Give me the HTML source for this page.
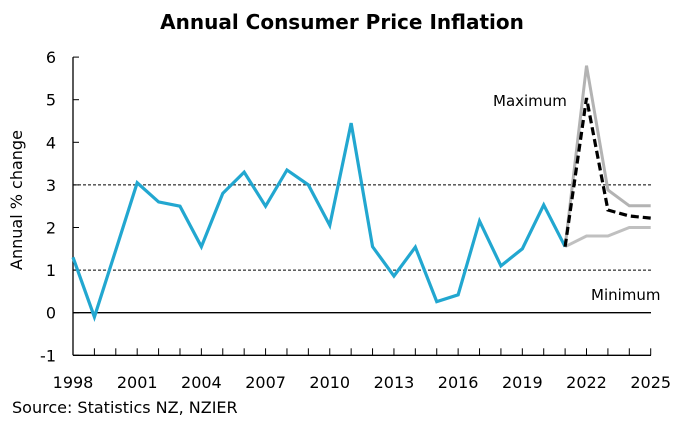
<!DOCTYPE html>
<html><head><meta charset="utf-8"><style>
body{margin:0;background:#fff;width:684px;height:425px;overflow:hidden}
svg text{font-family:"DejaVu Sans","Liberation Sans",sans-serif;fill:#000}
</style></head><body>
<svg id="c" width="684" height="425"></svg>
<script>
const years=[1998,1999,2000,2001,2002,2003,2004,2005,2006,2007,2008,2009,2010,2011,2012,2013,2014,2015,2016,2017,2018,2019,2020,2021];
const actual=[1.3,-0.1,1.47,3.05,2.6,2.5,1.55,2.8,3.3,2.5,3.35,3.0,2.05,4.45,1.55,0.86,1.54,0.26,0.42,2.15,1.1,1.5,2.53,1.55];
const fcYears=[2021,2022,2023,2024,2025];
const fcMax=[1.55,5.8,2.88,2.51,2.51];
const fcMin=[1.55,1.8,1.8,2.0,2.0];
const fcCentral=[1.55,5.04,2.41,2.27,2.22];
const yTicks=[-1,0,1,2,3,4,5,6];
const xTickLabels=[1998,2001,2004,2007,2010,2013,2016,2019,2022,2025];
const NS='http://www.w3.org/2000/svg',svg=document.getElementById('c');
const X=y=>73+(y-1998)*(650.7-73)/27, Y=v=>312.7-v*42.6;
function el(t,a,txt){const e=document.createElementNS(NS,t);for(const k in a)e.setAttribute(k,a[k]);if(txt!=null)e.textContent=txt;svg.appendChild(e);return e;}
let e;
e=el('text',{x:342,y:29,'text-anchor':'middle','font-size':20,'font-weight':'bold'},'Annual Consumer Price Inflation');


[1,3].forEach(v=>{e=el('line',{x1:73,x2:651,y1:Y(v),y2:Y(v),stroke:'#000','stroke-width':1,'stroke-dasharray':'3,2'});

});
e=el('line',{x1:73,x2:651,y1:Y(0),y2:Y(0),stroke:'#000','stroke-width':1.3});


e=el('line',{x1:73,x2:73,y1:Y(6),y2:Y(-1),stroke:'#000','stroke-width':1.3});


e=el('line',{x1:73,x2:651,y1:Y(-1),y2:Y(-1),stroke:'#000','stroke-width':1.3});


yTicks.forEach(v=>{el('line',{x1:73,x2:79,y1:Y(v),y2:Y(v),stroke:'#000'});
e=el('text',{x:56,y:Y(v)+6,'text-anchor':'end','font-size':16},v);

});
for(let yr=1999;yr<=2025;yr++)el('line',{x1:X(yr),x2:X(yr),y1:Y(-1),y2:Y(-1)-7,stroke:'#000'});
xTickLabels.forEach(yr=>{e=el('text',{x:X(yr),y:388,'text-anchor':'middle','font-size':16},yr);

});
e=el('text',{x:22,y:200,'text-anchor':'middle','font-size':16,transform:'rotate(-90 22 200)'},'Annual % change');


const pts=(xs,vs)=>xs.map((x,i)=>X(x)+','+Y(vs[i])).join(' ');
e=el('polyline',{points:pts(fcYears,fcMax),fill:'none',stroke:'#b3b3b3','stroke-width':3});


e=el('polyline',{points:pts(fcYears,fcMin),fill:'none',stroke:'#c0c0c0','stroke-width':3});


e=el('polyline',{points:pts(years,actual),fill:'none',stroke:'#22a7d0','stroke-width':3.2,'stroke-linejoin':'miter'});


e=el('polyline',{points:pts(fcYears,fcCentral),fill:'none',stroke:'#000','stroke-width':3.2,'stroke-dasharray':'8,4'});


e=el('text',{x:493,y:106,'font-size':15},'Maximum');


e=el('text',{x:591,y:300,'font-size':15},'Minimum');


e=el('text',{x:12,y:413,'font-size':16},'Source: Statistics NZ, NZIER');


</script>
</body></html>
